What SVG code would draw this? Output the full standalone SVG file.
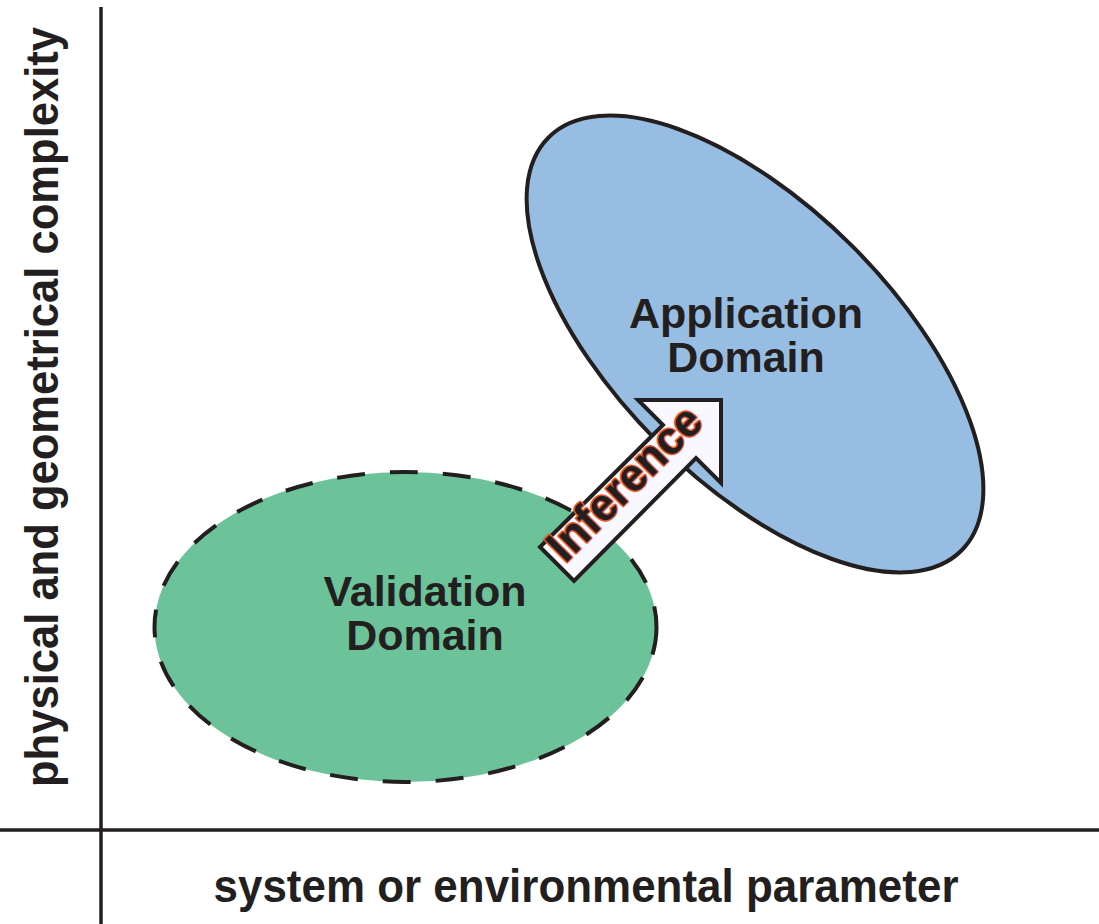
<svg xmlns="http://www.w3.org/2000/svg" width="1099" height="924" viewBox="0 0 1099 924">
  <style>
    .ink { fill: #231f20; font-family: "Liberation Sans", Arial, sans-serif; font-weight: bold; }
    .lbl { font-size: 43px; text-anchor: middle; }
    .axislbl { font-size: 46px; text-anchor: middle; }
    .axis { stroke: #231f20; stroke-width: 3.5; fill: none; }
    .outline { stroke: #231f20; stroke-width: 4; }
  </style>
  <rect width="1099" height="924" fill="#ffffff"/>

  <!-- axes -->
  <g id="axes">
    <line class="axis" x1="101" y1="7" x2="101" y2="924"/>
    <line class="axis" x1="0" y1="830" x2="1099" y2="830"/>
    <text class="ink axislbl" x="586" y="902" textLength="745" lengthAdjust="spacingAndGlyphs">system or environmental parameter</text>
    <text class="ink axislbl" x="58" y="407" transform="rotate(-90 58 407)" textLength="760" lengthAdjust="spacingAndGlyphs">physical and geometrical complexity</text>
  </g>

  <!-- validation domain -->
  <g id="validation-domain">
    <ellipse cx="405.5" cy="627" rx="251" ry="155" fill="#6cc39a" stroke="#231f20" stroke-width="4" stroke-dasharray="28 25"/>
    <text class="ink lbl" x="425" y="606">Validation</text>
    <text class="ink lbl" x="425" y="650">Domain</text>
  </g>

  <!-- application domain -->
  <g id="application-domain">
    <ellipse cx="755" cy="344" rx="292" ry="138" transform="rotate(45 755 344)" fill="#98bde2" class="outline"/>
    <text class="ink lbl" x="746" y="328">Application</text>
    <text class="ink lbl" x="746" y="372">Domain</text>
  </g>

  <!-- inference arrow -->
  <g id="connectors">
    <g id="inference-arrow">
      <polygon points="721,400 721,483 696,458 574,581 540,547 663,425 638,400" fill="#f8f8fe" class="outline" stroke-linejoin="miter"/>
      <text class="ink" x="635" y="494" transform="rotate(-45 635 494)" font-size="46" text-anchor="middle" textLength="198" lengthAdjust="spacingAndGlyphs" stroke="#e9572b" stroke-width="3" paint-order="stroke" stroke-linejoin="round">Inference</text>
    </g>
  </g>
</svg>
